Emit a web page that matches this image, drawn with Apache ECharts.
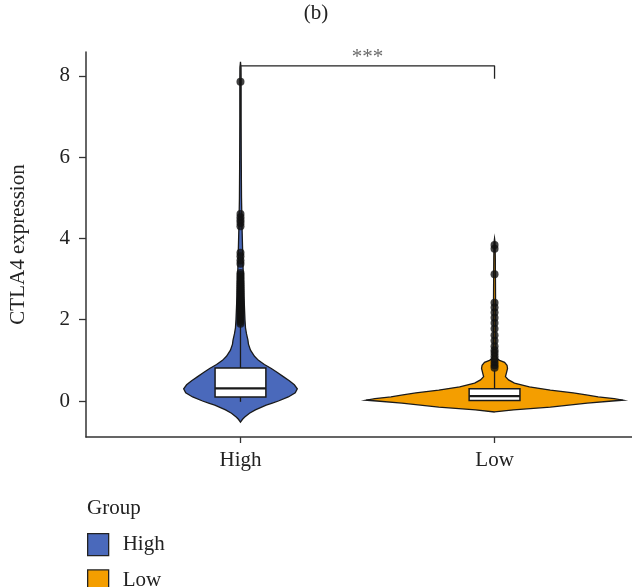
<!DOCTYPE html>
<html><head><meta charset="utf-8">
<script src="https://cdn.jsdelivr.net/npm/echarts@6/dist/echarts.min.js"></script>
<style>html,body{margin:0;padding:0;background:#fff}#c{width:632px;height:587px}</style>
</head><body><div id="c"></div>
<script>
// ---- data ----
const categories = ['High', 'Low'];
const yTicks = [0, 2, 4, 6, 8];
// box stats: [lowerWhisker, Q1, median, Q3, upperWhisker]
const highBox = [-0.02, 0.10, 0.31, 0.81, 1.87];
const lowBox = [0.00, 0.01, 0.12, 0.30, 0.75];
const highOutliers = [7.86, 4.60, 4.52, 4.45, 4.38, 4.30, 3.65, 3.56, 3.46, 3.38, 3.15, 3.10, 3.05, 3.00, 2.95, 2.90, 2.85,
  2.80, 2.75, 2.70, 2.65, 2.60, 2.55, 2.50, 2.45, 2.40, 2.35, 2.30, 2.25, 2.20, 2.15, 2.10, 2.05, 2.00, 1.95, 1.90];
const lowOutliers = [3.84, 3.75, 3.12, 2.42, 2.30, 2.18, 2.05, 1.92, 1.78, 1.62, 1.48, 1.35, 1.25, 1.18, 1.10, 1.02, 0.95, 0.88, 0.82];
// violin density profiles (relative density at given expression value)
const highKdeY = [-0.52, -0.45, -0.4, -0.3, -0.22, -0.1, -0.05, 0.0, 0.1, 0.2, 0.3, 0.4, 0.5, 0.6, 0.7, 0.8, 0.9, 1.0, 1.1, 1.25,
  1.4, 1.5, 1.65, 1.8, 2.0, 2.3, 2.6, 3.0, 3.4, 3.8, 4.3, 5.0, 6.0, 7.0, 7.8, 8.2, 8.35];
const highKdeD = [0, 0.016, 0.031, 0.07, 0.116, 0.2, 0.248, 0.295, 0.372, 0.426, 0.442, 0.419, 0.38, 0.333, 0.287, 0.24, 0.186,
  0.14, 0.109, 0.078, 0.062, 0.058, 0.047, 0.039, 0.035, 0.031, 0.027, 0.023, 0.019, 0.016, 0.012, 0.008, 0.006, 0.005, 0.005, 0.004, 0];
const lowKdeY = [-0.27, -0.22, -0.15, -0.05, 0.0, 0.02, 0.06, 0.1, 0.15, 0.2, 0.27, 0.35, 0.44, 0.52, 0.6, 0.7, 0.8, 0.88, 0.95,
  1.0, 1.05, 1.3, 1.8, 2.4, 3.0, 3.5, 3.9, 4.0];
const lowKdeD = [0, 0.147, 0.434, 0.721, 0.915, 1.0, 0.93, 0.806, 0.713, 0.612, 0.434, 0.271, 0.155, 0.109, 0.085, 0.093, 0.101,
  0.097, 0.078, 0.039, 0.016, 0.01, 0.009, 0.008, 0.007, 0.006, 0.004, 0];
const sigLabel = '***';
const sigBracketY = [7.93, 8.25];
const titleText = '(b)';
const yName = 'CTLA4 expression';
const legendTitle = 'Group';

// ---- style ----
const FONT = 'Liberation Serif';
const FS = 21;
const colors = { High: '#4a69bb', Low: '#f49e00' };
const WSCALE = 0.506;   // x-units per unit density
const BOXHALF = 0.1;

function violin(name, x, ys, ds) {
  return {
    type: 'custom', name, z: 2,
    itemStyle: { color: colors[name] },
    data: [[x, ys[0]]],
    renderItem(params, api) {
      const pts = [];
      for (let i = 0; i < ys.length; i++) pts.push(api.coord([x + ds[i] * WSCALE, ys[i]]));
      for (let i = ys.length - 1; i >= 0; i--) pts.push(api.coord([x - ds[i] * WSCALE, ys[i]]));
      return { type: 'polygon', shape: { points: pts }, style: { fill: colors[name], stroke: '#1a1a1a', lineWidth: 1.3 } };
    }
  };
}
function box(x, b) {
  return {
    type: 'custom', z: 3, silent: true,
    data: [[x].concat(b)],
    renderItem(params, api) {
      const lo = api.coord([x, b[0]]), hi = api.coord([x, b[4]]);
      const tl = api.coord([x - BOXHALF, b[3]]), br = api.coord([x + BOXHALF, b[1]]);
      const ml = api.coord([x - BOXHALF, b[2]]), mr = api.coord([x + BOXHALF, b[2]]);
      return { type: 'group', children: [
        { type: 'line', shape: { x1: lo[0], y1: lo[1], x2: hi[0], y2: hi[1] }, style: { stroke: '#1a1a1a', lineWidth: 1.3 } },
        { type: 'rect', shape: { x: tl[0], y: tl[1], width: br[0] - tl[0], height: br[1] - tl[1] }, style: { fill: '#fff', stroke: '#1a1a1a', lineWidth: 1.5 } },
        { type: 'line', shape: { x1: ml[0], y1: ml[1], x2: mr[0], y2: mr[1] }, style: { stroke: '#1a1a1a', lineWidth: 2.2 } }
      ]};
    }
  };
}

const chart = echarts.init(document.getElementById('c'), null, { renderer: 'canvas' });
chart.setOption({
  animation: false,
  backgroundColor: '#fff',
  textStyle: { fontFamily: FONT },
  title: { text: titleText, left: 'center', top: 3, padding: 0,
    textStyle: { fontFamily: FONT, fontSize: FS, fontWeight: 'normal', color: '#222' } },
  grid: { left: 84, right: 0, top: 52, bottom: 150 },
  xAxis: {
    type: 'value', min: 0.392, max: 2.541,
    axisLine: { onZero: false, lineStyle: { color: '#333', width: 1.5 } },
    axisTick: { show: true, customValues: [1, 2], length: 6, lineStyle: { color: '#333', width: 1.3 } },
    axisLabel: { customValues: [1, 2], formatter: v => categories[Math.round(v) - 1], margin: 13,
      fontFamily: FONT, fontSize: FS, color: '#222' },
    splitLine: { show: false }
  },
  yAxis: {
    type: 'value', min: -0.886, max: 8.59,
    name: yName, nameLocation: 'middle', nameGap: 57,
    nameTextStyle: { fontFamily: FONT, fontSize: FS, color: '#222' },
    axisLine: { show: true, onZero: false, lineStyle: { color: '#333', width: 1.5 } },
    axisTick: { show: true, customValues: yTicks, length: 7, lineStyle: { color: '#333', width: 1.3 } },
    axisLabel: { customValues: yTicks, margin: 16, fontFamily: FONT, fontSize: FS, color: '#222' },
    splitLine: { show: false }
  },
  legend: {
    orient: 'vertical', left: 87, top: 533, height: 120, padding: 0,
    itemWidth: 21, itemHeight: 22, itemGap: 13, icon: 'rect',
    itemStyle: { borderColor: '#222', borderWidth: 1.3 },
    textStyle: { fontFamily: FONT, fontSize: FS, color: '#222', padding: [0, 0, 0, 9] },
    data: categories
  },
  graphic: [{ type: 'text', left: 87, top: 498, style: { text: legendTitle, font: FS + 'px "Liberation Serif"', fill: '#222' } }],
  series: [
    violin('High', 1, highKdeY, highKdeD),
    violin('Low', 2, lowKdeY, lowKdeD),
    box(1, highBox),
    box(2, lowBox),
    { type: 'scatter', z: 4, silent: true, symbolSize: 8, itemStyle: { color: '#111' },
      data: highOutliers.map(v => [1, v]).concat(lowOutliers.map(v => [2, v])) },
    { type: 'line', z: 5, silent: true, symbol: 'none', lineStyle: { color: '#222', width: 1.3 },
      data: [[1, sigBracketY[0]], [1, sigBracketY[1]], [2, sigBracketY[1]], [2, sigBracketY[0]]] },
    { type: 'scatter', z: 5, silent: true, symbolSize: 0,
      label: { show: true, position: 'top', distance: -2, formatter: sigLabel, fontFamily: FONT, fontSize: FS, color: '#444' },
      data: [[1.5, sigBracketY[1]]] }
  ]
});
</script></body></html>
